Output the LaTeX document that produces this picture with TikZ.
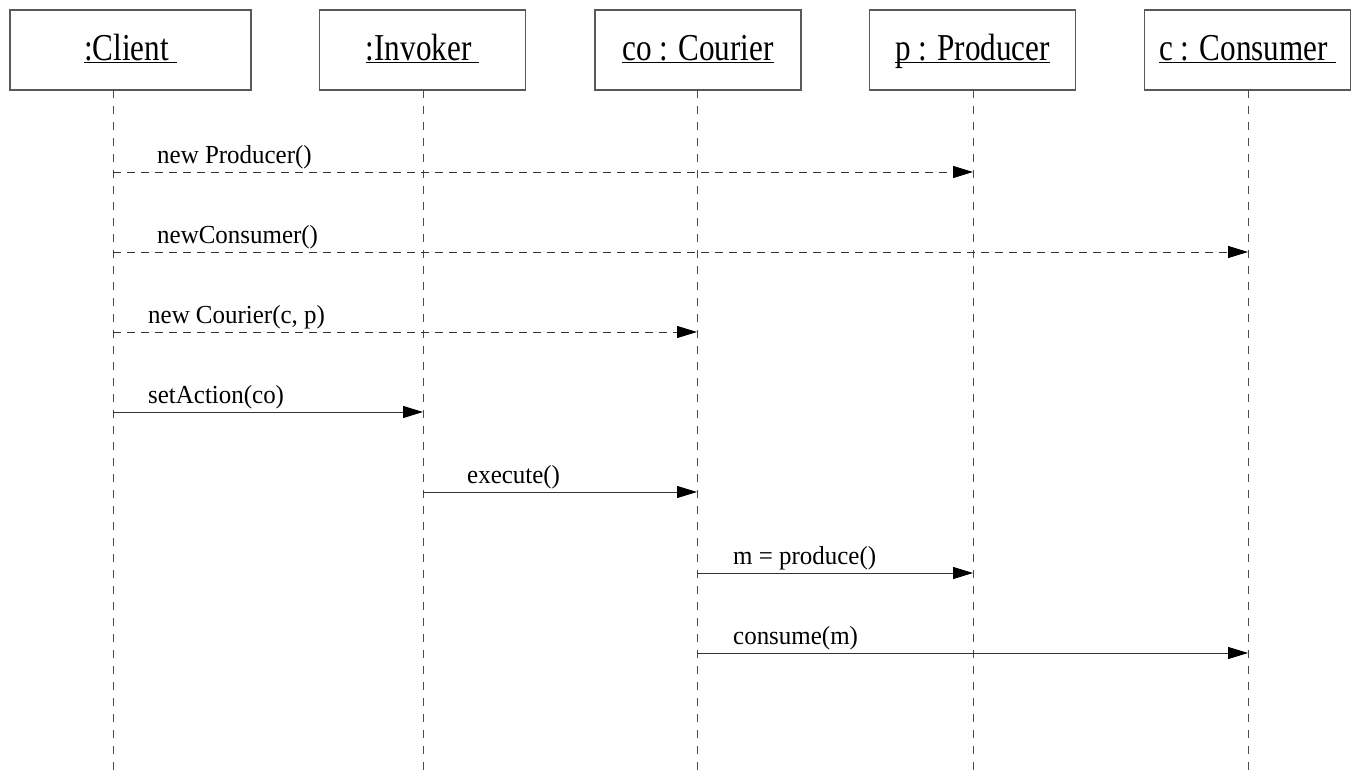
\documentclass[tikz,border=0pt]{standalone}
\usepackage{fontspec}
\usetikzlibrary{arrows.meta}
\newfontfamily\headfont[FakeStretch=0.82]{Liberation Serif}
\newfontfamily\msgfont[FakeStretch=0.96]{Liberation Serif}
\newcommand{\objname}[1]{\underline{\raisebox{0pt}[24pt][0pt]{#1}}}
\tikzset{
	objbox/.style = {
		rectangle,
		draw=black!65,
		line width=1.2pt,
		minimum width=206pt,
		minimum height=80pt,
		inner sep=0pt,
		font=\headfont\fontsize{38}{42}\selectfont
	},
	lifeline/.style = {
		draw=black!70,
		line width=1pt,
		dash pattern=on 8pt off 8pt
	},
	call/.style = {
		draw=black!80,
		line width=1pt,
		-{Triangle[length=20pt,width=12pt,color=black]}
	},
	create/.style = {
		call,
		dash pattern=on 8pt off 6pt
	},
	msglabel/.style = {
		anchor=base west,
		inner sep=0pt,
		yshift=9pt,
		font=\msgfont\fontsize{26}{30}\selectfont
	}
}
\begin{document}
\begin{tikzpicture}[x=1pt,y=-1pt]
\useasboundingbox (0,0) rectangle (1361,776);
% objects
\node [objbox, minimum width=241pt] (client) at (130.5,50) {\objname{:Client~}};
\node [objbox] (invoker) at (422.5,50) {\objname{:Invoker~}};
\node [objbox] (courier) at (698,50) {\objname{co : Courier}};
\node [objbox] (producer) at (972.5,50) {\objname{p : Producer}};
\node [objbox] (consumer) at (1247.5,50) {\objname{c : Consumer~}};
% lifelines
\foreach \n/\x in {cl/113, iv/423, co/697, pr/973, cs/1248} {
	\coordinate (\n-top) at (\x,90);
	\coordinate (\n-bot) at (\x,776);
	\draw [lifeline] (\n-top) -- (\n-bot);
}
% messages
\draw [create] (cl-top |- 0,172) -- (pr-top |- 0,172);
\node [msglabel, xshift=44pt] (m1) at (cl-top |- 0,172) {new Producer()};
\draw [create] (cl-top |- 0,252) -- (cs-top |- 0,252);
\node [msglabel, xshift=44pt] (m2) at (cl-top |- 0,252) {newConsumer()};
\draw [create] (cl-top |- 0,332) -- (co-top |- 0,332);
\node [msglabel, xshift=35pt] (m3) at (cl-top |- 0,332) {new Courier(c, p)};
\draw [call] (cl-top |- 0,412) -- (iv-top |- 0,412);
\node [msglabel, xshift=35pt] (m4) at (cl-top |- 0,412) {setAction(co)};
\draw [call] (iv-top |- 0,492) -- (co-top |- 0,492);
\node [msglabel, xshift=44pt] (m5) at (iv-top |- 0,492) {execute()};
\draw [call] (co-top |- 0,573) -- (pr-top |- 0,573);
\node [msglabel, xshift=36pt] (m6) at (co-top |- 0,573) {m = produce()};
\draw [call] (co-top |- 0,653) -- (cs-top |- 0,653);
\node [msglabel, xshift=36pt] (m7) at (co-top |- 0,653) {consume(m)};
\end{tikzpicture}
\end{document}
